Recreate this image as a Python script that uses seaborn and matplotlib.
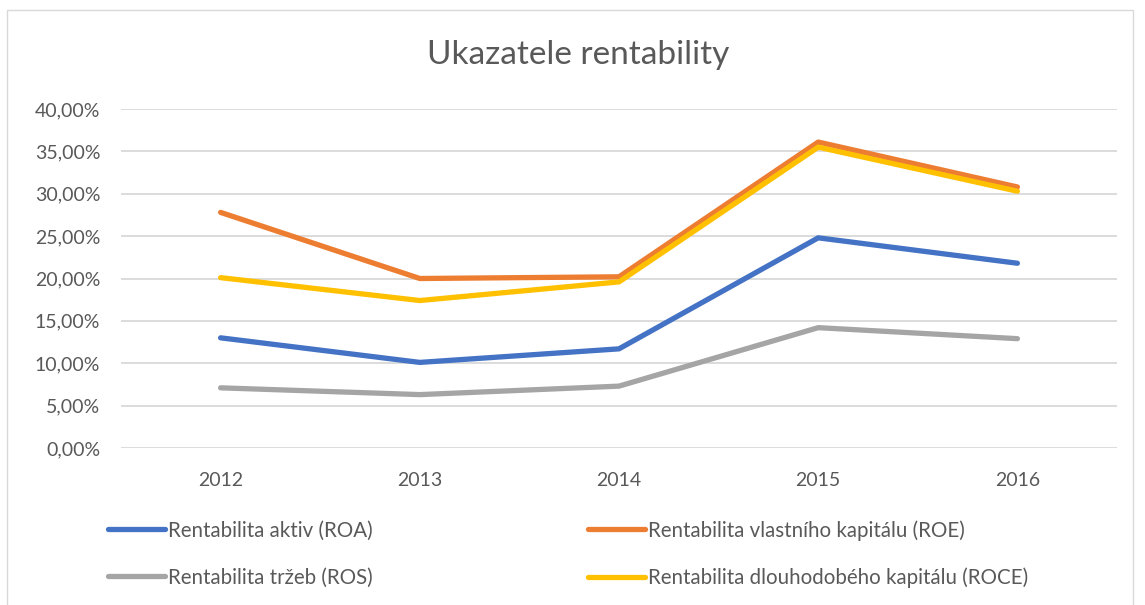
import matplotlib
matplotlib.use("Agg")
import matplotlib.pyplot as plt
import seaborn as sns
import pandas as pd
from matplotlib.ticker import FuncFormatter, MultipleLocator
from matplotlib.lines import Line2D
from matplotlib.patches import Rectangle

years = ["2012", "2013", "2014", "2015", "2016"]
roa = [13.0, 10.1, 11.7, 24.8, 21.8]
roe = [27.8, 20.0, 20.2, 36.1, 30.8]
ros = [7.1, 6.3, 7.3, 14.2, 12.9]
roce = [20.1, 17.4, 19.6, 35.5, 30.3]
series_names = [
    "Rentabilita aktiv (ROA)",
    "Rentabilita vlastního kapitálu (ROE)",
    "Rentabilita tržeb (ROS)",
    "Rentabilita dlouhodobého kapitálu (ROCE)",
]
title = "Ukazatele rentability"
colors = ["#4472C4", "#ED7D31", "#A5A5A5", "#FFC000"]

rows = []
for name, vals in zip(series_names, [roa, roe, ros, roce]):
    for y, v in zip(years, vals):
        rows.append({"Rok": y, "Hodnota": v / 100.0, "Ukazatel": name})
df = pd.DataFrame(rows)

sns.set_style("white")
plt.rcParams["font.family"] = ["Lato", "DejaVu Sans"]
txt = "#595959"

fig = plt.figure(figsize=(11.45, 6.05), dpi=100)
ax = fig.add_axes([121 / 1145, 1 - 448 / 605, (1117 - 121) / 1145, (448 - 109) / 605])

# chart border
fig.patches.append(Rectangle((7 / 1145, -0.01), (1133 - 7) / 1145, 1 - 10 / 605 + 0.01,
                             transform=fig.transFigure, fill=False,
                             edgecolor="#D9D9D9", linewidth=1.0))

sns.lineplot(data=df, x="Rok", y="Hodnota", hue="Ukazatel", hue_order=series_names,
             palette=colors, linewidth=3.8, ax=ax, legend=False, sort=False)
for ln in ax.get_lines():
    ln.set_solid_capstyle("round")
    ln.set_solid_joinstyle("round")

ax.set_ylim(0, 0.40)
ax.set_xlim(-0.5, len(years) - 0.5)
ax.yaxis.set_major_locator(MultipleLocator(0.05))
ax.yaxis.set_major_formatter(FuncFormatter(lambda v, p: f"{v*100:.2f}".replace(".", ",") + "%"))
ax.grid(axis="y", color="#D9D9D9", linewidth=1.3)
ax.set_axisbelow(True)
for s in ax.spines.values():
    s.set_visible(False)
ax.tick_params(axis="both", length=0, labelsize=14, colors=txt)
ax.tick_params(axis="y", pad=15)
ax.tick_params(axis="x", pad=17)
ax.set_xlabel("")
ax.set_ylabel("")

fig.text(0.505, 1 - 55 / 605, title, ha="center", va="center", fontsize=24, color=txt)

handles = [Line2D([0], [0], color=c, linewidth=3.8, solid_capstyle="round") for c in colors]
leg_kw = dict(loc="center left", frameon=False, fontsize=14.8, labelcolor=txt,
              handlelength=2.75, handletextpad=0.15, labelspacing=1.3,
              borderaxespad=0, borderpad=0)
leg1 = fig.legend([handles[0], handles[2]], [series_names[0], series_names[2]],
                  bbox_to_anchor=(108 / 1145, 1 - 554 / 605), **leg_kw)
leg2 = fig.legend([handles[1], handles[3]], [series_names[1], series_names[3]],
                  bbox_to_anchor=(588 / 1145, 1 - 554 / 605), **leg_kw)

fig.savefig("out.png", dpi=100)
